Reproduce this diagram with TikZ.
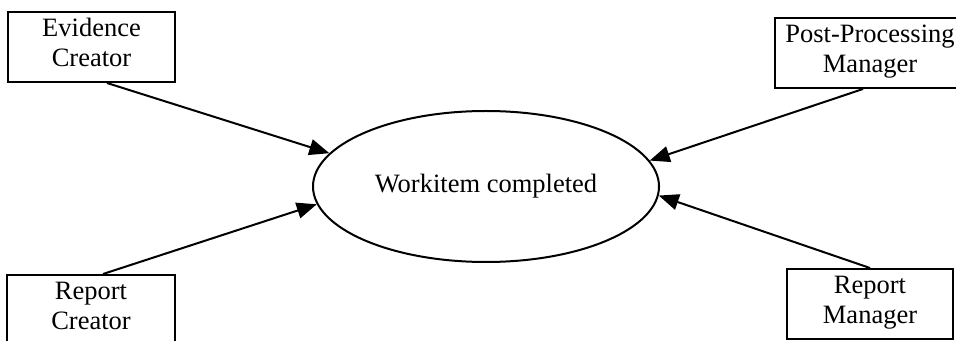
\documentclass[tikz,border=0pt]{standalone}
\usepackage{fontspec}
\setmainfont{Liberation Serif}
\usetikzlibrary{arrows.meta,calc,shapes.geometric}

\begin{document}
\begin{tikzpicture}[x=0.5pt,y=-0.5pt,
  actorbox/.style={draw, line width=1pt, align=center, inner sep=0pt,
    font=\fontsize{13.25}{15}\selectfont,
    execute at begin node=\strut, execute at end node=\strut},
  eventnode/.style={draw, ellipse, line width=1pt, inner sep=0pt,
    minimum width=173pt, minimum height=75.5pt, font=\fontsize{13.25}{15}\selectfont},
  notify/.style={line width=1pt, -{Triangle[length=10pt,width=8pt]}}]
\useasboundingbox (0,0) rectangle (956,341);

\node[eventnode] (done) at (486,186.5) {Workitem completed};

\node[actorbox, minimum width=83.5pt, minimum height=35pt] (evcreator) at (91.5,47) {Evidence\\Creator};
\node[actorbox, minimum width=95pt, minimum height=35pt] (ppmanager) at (870,53) {Post-Processing\\Manager};
\node[actorbox, minimum width=84pt, minimum height=35pt] (repcreator) at (91,310) {Report\\Creator};
\node[actorbox, minimum width=83pt, minimum height=35pt] (repmanager) at (870,304) {Report\\Manager};

\draw[notify] ($(evcreator.south)+(15.5,0)$) -- (done.168.4);
\draw[notify] ($(ppmanager.south)+(-7,0)$) -- (done.9.3);
\draw[notify] ($(repcreator.north)+(12,0)$) -- (done.186.2);
\draw[notify] (repmanager.north) -- (done.-3.8);
\end{tikzpicture}
\end{document}
